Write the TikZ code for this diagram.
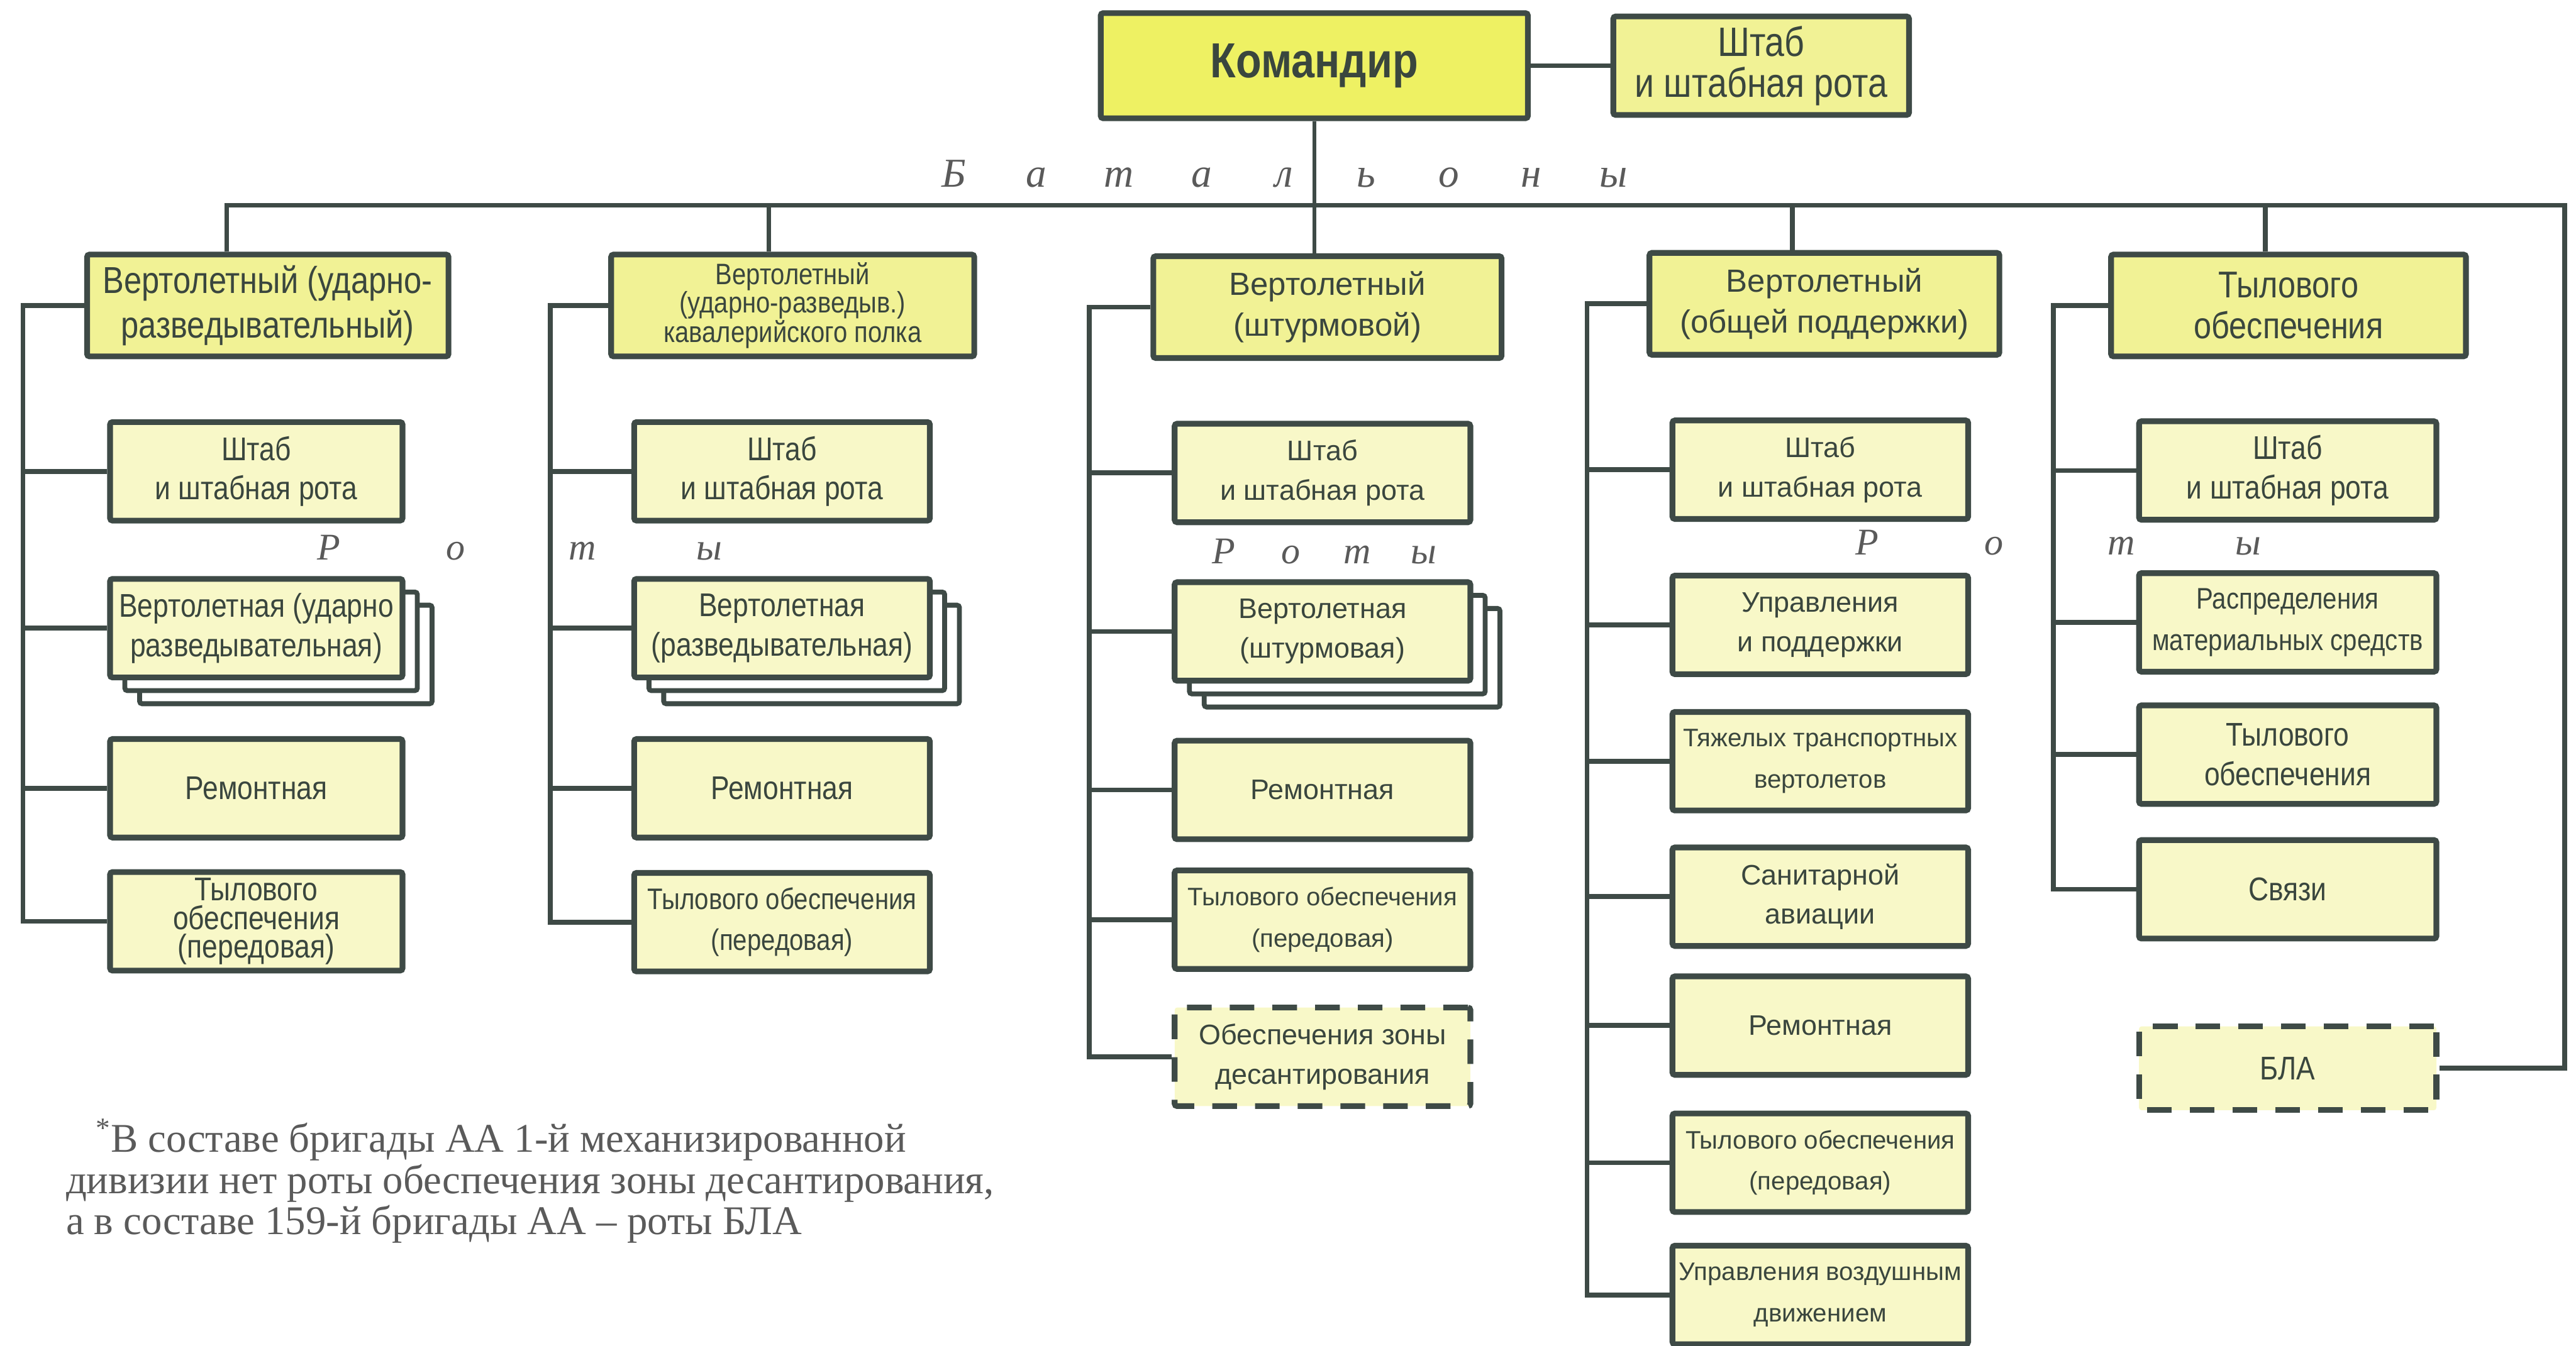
\documentclass[tikz,border=0pt]{standalone}
\usepackage{fontspec}
\setmainfont{Liberation Serif}
\newfontfamily\boxfont[FakeStretch=0.85]{Liberation Sans}
\newfontfamily\widefont{Liberation Sans}
\usetikzlibrary{shadows}
\definecolor{linecol}{HTML}{3E4A46}
\definecolor{inkcol}{HTML}{3A463E}
\definecolor{cmdfill}{HTML}{EEF163}
\definecolor{batfill}{HTML}{F1F295}
\definecolor{compfill}{HTML}{F8F8C8}
\definecolor{notecol}{HTML}{5A5A5A}
\tikzset{
  unitbox/.style={draw=linecol, line width=3.5pt, fill=compfill, rounded corners=1.5pt,
    minimum width=180pt, minimum height=60pt, inner sep=0pt, align=center, text=inkcol,
    font=\boxfont\fontsize{20}{24}\selectfont},
  widebox/.style={unitbox, font=\widefont\fontsize{17.2}{24}\selectfont},
  batbox/.style={unitbox, fill=batfill, minimum height=62pt,
    font=\boxfont\fontsize{22.7}{25}\selectfont},
  sparebox/.style={dash pattern=on 15pt off 11pt},
  stackbox/.style={
    copy shadow={shadow xshift=18pt, shadow yshift=-16pt, fill=white, draw=linecol, line width=3pt},
    copy shadow={shadow xshift=9pt, shadow yshift=-8pt, fill=white, draw=linecol, line width=3pt}},
  smallcond/.style={font=\boxfont\fontsize{18.1}{25}\selectfont},
  smallwide/.style={font=\widefont\fontsize{15.4}{25}\selectfont},
  link/.style={draw=linecol, line width=3pt},
  spaced/.style={anchor=base, inner sep=0pt, text=notecol, font=\itshape\fontsize{23}{23}\selectfont},
}
\begin{document}
\begin{tikzpicture}[x=1pt, y=-1pt]
\useasboundingbox[fill=white] (0,0) rectangle (1568,819.5);

% commander
\node[unitbox, fill=cmdfill, minimum width=260pt, minimum height=64pt,
  font=\boxfont\bfseries\fontsize{30}{30}\selectfont] (cmd) at (800,40) {Командир};
\node[batbox, minimum height=60pt, font=\boxfont\fontsize{25}{25}\selectfont] (hq) at (1072,40) {Штаб\\и штабная рота};

% battalions
\node[batbox, minimum width=220pt, font=\boxfont\fontsize{22.8}{27}\selectfont] (b1) at (163,186) {Вертолетный (ударно-\\разведывательный)};
\node[batbox, minimum width=221pt, font=\boxfont\fontsize{18}{17}\selectfont] (b2) at (482.5,186) {Вертолетный\\(ударно-разведыв.)\\кавалерийского полка};
\node[batbox, minimum width=212pt, font=\widefont\fontsize{19.5}{25}\selectfont] (b3) at (808,187) {Вертолетный\\(штурмовой)};
\node[batbox, minimum width=213pt, font=\widefont\fontsize{19.5}{25}\selectfont] (b4) at (1110.5,185) {Вертолетный\\(общей поддержки)};
\node[batbox, minimum width=216pt] (b5) at (1393,186) {Тылового\\обеспечения};

% companies of the 1st battalion
\node[unitbox, minimum width=178pt] (b1hq) at (156,287) {Штаб\\и штабная рота};
\node[unitbox, stackbox, minimum width=178pt] (b1hel) at (156,382.5) {Вертолетная (ударно\\разведывательная)};
\node[unitbox, minimum width=178pt] (b1rep) at (156,480) {Ремонтная};
\node[unitbox, minimum width=178pt, font=\boxfont\fontsize{20}{17.5}\selectfont] (b1log) at (156,561) {Тылового\\обеспечения\\(передовая)};

% companies of the 2nd battalion
\node[unitbox] (b2hq) at (476,287) {Штаб\\и штабная рота};
\node[unitbox, stackbox] (b2hel) at (476,382.5) {Вертолетная\\(разведывательная)};
\node[unitbox] (b2rep) at (476,480) {Ремонтная};
\node[unitbox, smallcond] (b2log) at (476,561.5) {Тылового обеспечения\\(передовая)};

% companies of the 3rd battalion
\node[widebox] (b3hq) at (805,288) {Штаб\\и штабная рота};
\node[widebox, stackbox] (b3hel) at (805,384.5) {Вертолетная\\(штурмовая)};
\node[widebox] (b3rep) at (805,481) {Ремонтная};
\node[widebox, smallwide] (b3log) at (805,560) {Тылового обеспечения\\(передовая)};
\node[widebox, sparebox] (b3lz) at (805,643.5) {Обеспечения зоны\\десантирования};

% companies of the 4th battalion
\node[widebox] (b4hq) at (1108,286) {Штаб\\и штабная рота};
\node[widebox] (b4ctl) at (1108,380.5) {Управления\\и поддержки};
\node[widebox, smallwide] (b4hvy) at (1108,463.5) {Тяжелых транспортных\\вертолетов};
\node[widebox] (b4med) at (1108,546) {Санитарной\\авиации};
\node[widebox] (b4rep) at (1108,624.5) {Ремонтная};
\node[widebox, smallwide] (b4log) at (1108,708) {Тылового обеспечения\\(передовая)};
\node[widebox, smallwide] (b4atc) at (1108,788.5) {Управления воздушным\\движением};

% companies of the rear battalion
\node[unitbox, minimum width=181pt] (b5hq) at (1392.5,286.5) {Штаб\\и штабная рота};
\node[unitbox, minimum width=181pt, smallcond] (b5dist) at (1392.5,379) {Распределения\\материальных средств};
\node[unitbox, minimum width=181pt] (b5log) at (1392.5,459.5) {Тылового\\обеспечения};
\node[unitbox, minimum width=181pt] (b5sig) at (1392.5,541.5) {Связи};
\node[unitbox, sparebox, minimum width=181pt, minimum height=51pt] (bla) at (1392.5,650.5) {БЛА};

% spaced captions
\foreach \ch [count=\i from 0] in {Б,а,т,а,л,ь,о,н,ы}
  \node[spaced, font=\itshape\fontsize{25}{25}\selectfont] (bat\i) at (580.7+50.2*\i,114) {\ch};
\foreach \ch [count=\i from 0] in {Р,о,т,ы} {
  \node[spaced] (rl\i) at (200+77.3*\i,341) {\ch};
  \node[spaced] (rc\i) at (745+40.6*\i,343) {\ch};
  \node[spaced] (rr\i) at (1136.5+77.3*\i,338) {\ch};
}

% footnote
\node[anchor=north west, align=left, inner sep=0pt, text=notecol,
  font=\fontsize{24.8}{25}\selectfont] (note) at (40,681)
  {\hspace*{18pt}\textsuperscript{*}В составе бригады АА 1-й механизированной\\
   дивизии нет роты обеспечения зоны десантирования,\\
   а в составе 159-й бригады АА – роты БЛА};

% battalion bus
\coordinate (j1) at (138,125);
\coordinate (j2) at (468,125);
\coordinate (j4) at (1091,125);
\coordinate (j5) at (1379,125);
\coordinate (jr) at (1561,125);
\draw[link] (j1 |- b1.north) -- (j1) -- (jr) |- (bla.east);
\foreach \j/\b in {j2/b2, j4/b4, j5/b5}
  \draw[link] (\j) -- (\j |- \b.north);
\draw[link, line width=2.5pt] (cmd.south) -- (cmd.south |- b3.north);
\draw[link] (cmd.east) -- (hq.west);

% company trunks
\coordinate (t1) at (14,0);
\coordinate (t2) at (335,0);
\coordinate (t3) at (663,0);
\coordinate (t4) at (966,0);
\coordinate (t5) at (1250,0);
\draw[link] (b1.west) -| (t1 |- b1log.west) -- (b1log.west);
\draw[link] (b2.west) -| (t2 |- b2log.west) -- (b2log.west);
\draw[link] (b3.west) -| (t3 |- b3lz.west) -- (b3lz.west);
\draw[link] (b4.west) -| (t4 |- b4atc.west) -- (b4atc.west);
\draw[link] (b5.west) -| (t5 |- b5sig.west) -- (b5sig.west);
\foreach \c in {b1hq, b1hel, b1rep}
  \draw[link] (\c.west) -- (\c.west -| t1);
\foreach \c in {b2hq, b2hel, b2rep}
  \draw[link] (\c.west) -- (\c.west -| t2);
\foreach \c in {b3hq, b3hel, b3rep, b3log}
  \draw[link] (\c.west) -- (\c.west -| t3);
\foreach \c in {b4hq, b4ctl, b4hvy, b4med, b4rep, b4log}
  \draw[link] (\c.west) -- (\c.west -| t4);
\foreach \c in {b5hq, b5dist, b5log}
  \draw[link] (\c.west) -- (\c.west -| t5);
\end{tikzpicture}
\end{document}
